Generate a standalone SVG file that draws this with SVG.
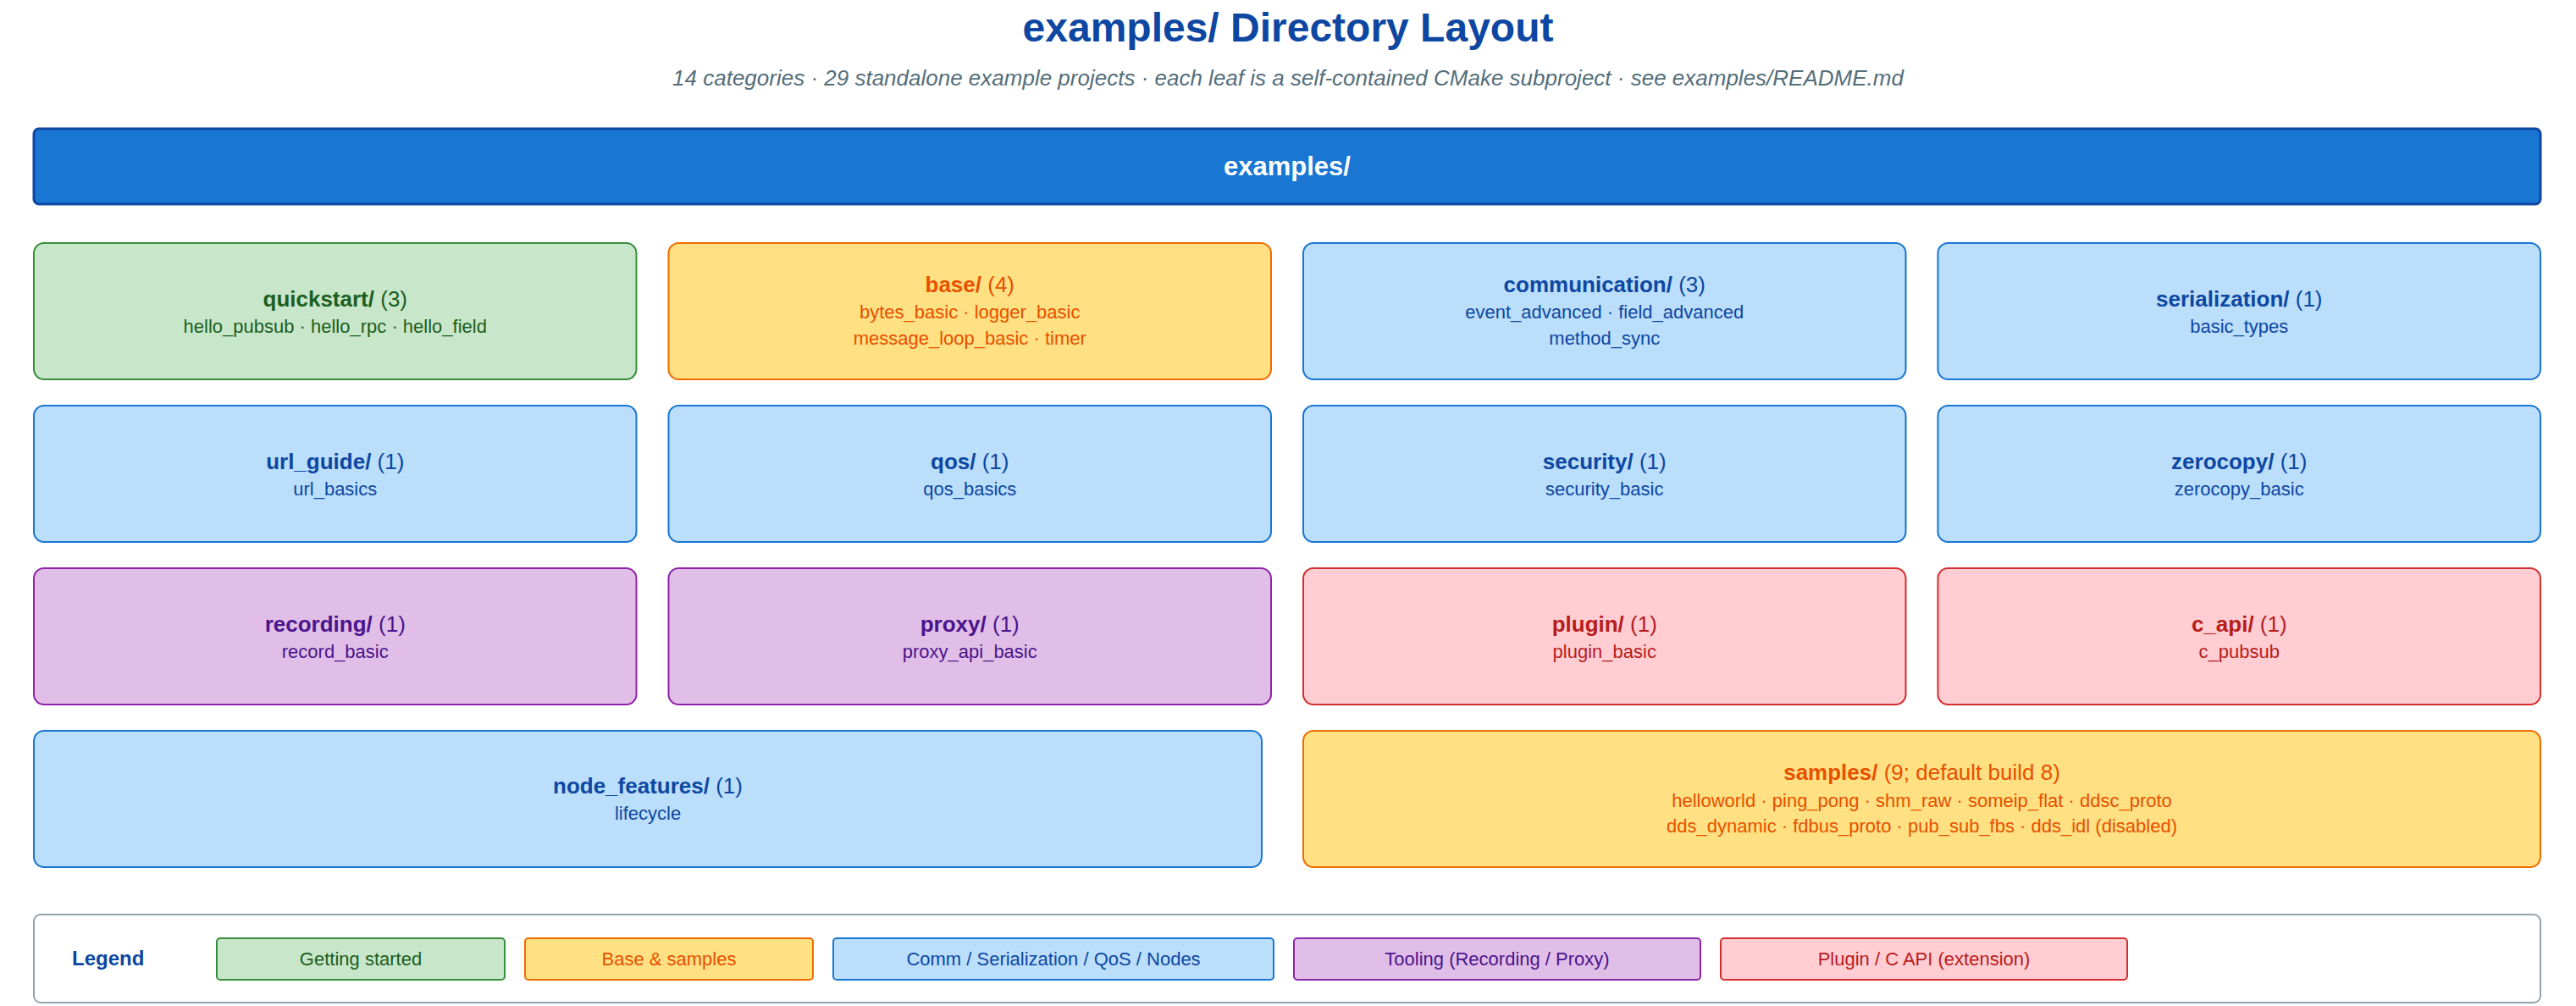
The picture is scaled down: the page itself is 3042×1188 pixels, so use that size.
<svg xmlns="http://www.w3.org/2000/svg" width="3042" height="1188" viewBox="0 0 3042 1188">
<style>
text{font-family:"Liberation Sans",Arial,sans-serif;text-anchor:middle}
.title{font-size:48px;font-weight:bold;fill:#0d47a1}
.sub{font-size:26px;font-style:italic;fill:#546e7a}
.rootbox{fill:#1976d2;stroke:#0d47a1;stroke-width:3}
.roottxt{font-size:31px;font-weight:bold;fill:#ffffff}
.box{stroke-width:2}
.nt{font-size:26px}
.nt .b{font-weight:bold}
.it{font-size:22px}
.g rect{fill:#c8e6c9;stroke:#388e3c}
.g text{fill:#1b5e20}
.o rect{fill:#ffe082;stroke:#ef6c00}
.o text{fill:#e65100}
.bl rect{fill:#bbdefb;stroke:#1976d2}
.bl text{fill:#0d47a1}
.p rect{fill:#e1bee7;stroke:#8e24aa}
.p text{fill:#4a148c}
.r rect{fill:#ffcdd2;stroke:#d32f2f}
.r text{fill:#b71c1c}
.legbox{fill:#ffffff;stroke:#90a4ae;stroke-width:2}
.legtitle{font-size:24px;font-weight:bold;fill:#0d47a1;text-anchor:start}
.li{font-size:22px}
</style>
<text class="title" x="1521" y="49">examples/ Directory Layout</text>
<text class="sub" x="1521" y="101">14 categories · 29 standalone example projects · each leaf is a self-contained CMake subproject · see examples/README.md</text>
<g id="root">
<rect class="rootbox" x="40" y="152" width="2960" height="89" rx="6"/>
<text class="roottxt" x="1520" y="207">examples/</text>
</g>
<g id="connectors"></g>
<g id="quickstart" class="g">
<rect class="box" x="40" y="287" width="711.5" height="161" rx="12"/>
<text class="nt" x="395.75" y="361.5"><tspan class="b">quickstart/</tspan> (3)</text>
<text class="it" x="395.75" y="392.5">hello_pubsub · hello_rpc · hello_field</text>
</g>
<g id="base" class="o">
<rect class="box" x="789.5" y="287" width="711.5" height="161" rx="12"/>
<text class="nt" x="1145.25" y="344.5"><tspan class="b">base/</tspan> (4)</text>
<text class="it" x="1145.25" y="376">bytes_basic · logger_basic</text>
<text class="it" x="1145.25" y="407">message_loop_basic · timer</text>
</g>
<g id="communication" class="bl">
<rect class="box" x="1539" y="287" width="711.5" height="161" rx="12"/>
<text class="nt" x="1894.75" y="344.5"><tspan class="b">communication/</tspan> (3)</text>
<text class="it" x="1894.75" y="376">event_advanced · field_advanced</text>
<text class="it" x="1894.75" y="407">method_sync</text>
</g>
<g id="serialization" class="bl">
<rect class="box" x="2288.5" y="287" width="711.5" height="161" rx="12"/>
<text class="nt" x="2644.25" y="361.5"><tspan class="b">serialization/</tspan> (1)</text>
<text class="it" x="2644.25" y="392.5">basic_types</text>
</g>
<g id="url_guide" class="bl">
<rect class="box" x="40" y="479" width="711.5" height="161" rx="12"/>
<text class="nt" x="395.75" y="553.5"><tspan class="b">url_guide/</tspan> (1)</text>
<text class="it" x="395.75" y="584.5">url_basics</text>
</g>
<g id="qos" class="bl">
<rect class="box" x="789.5" y="479" width="711.5" height="161" rx="12"/>
<text class="nt" x="1145.25" y="553.5"><tspan class="b">qos/</tspan> (1)</text>
<text class="it" x="1145.25" y="584.5">qos_basics</text>
</g>
<g id="security" class="bl">
<rect class="box" x="1539" y="479" width="711.5" height="161" rx="12"/>
<text class="nt" x="1894.75" y="553.5"><tspan class="b">security/</tspan> (1)</text>
<text class="it" x="1894.75" y="584.5">security_basic</text>
</g>
<g id="zerocopy" class="bl">
<rect class="box" x="2288.5" y="479" width="711.5" height="161" rx="12"/>
<text class="nt" x="2644.25" y="553.5"><tspan class="b">zerocopy/</tspan> (1)</text>
<text class="it" x="2644.25" y="584.5">zerocopy_basic</text>
</g>
<g id="recording" class="p">
<rect class="box" x="40" y="671" width="711.5" height="161" rx="12"/>
<text class="nt" x="395.75" y="745.5"><tspan class="b">recording/</tspan> (1)</text>
<text class="it" x="395.75" y="776.5">record_basic</text>
</g>
<g id="proxy" class="p">
<rect class="box" x="789.5" y="671" width="711.5" height="161" rx="12"/>
<text class="nt" x="1145.25" y="745.5"><tspan class="b">proxy/</tspan> (1)</text>
<text class="it" x="1145.25" y="776.5">proxy_api_basic</text>
</g>
<g id="plugin" class="r">
<rect class="box" x="1539" y="671" width="711.5" height="161" rx="12"/>
<text class="nt" x="1894.75" y="745.5"><tspan class="b">plugin/</tspan> (1)</text>
<text class="it" x="1894.75" y="776.5">plugin_basic</text>
</g>
<g id="c_api" class="r">
<rect class="box" x="2288.5" y="671" width="711.5" height="161" rx="12"/>
<text class="nt" x="2644.25" y="745.5"><tspan class="b">c_api/</tspan> (1)</text>
<text class="it" x="2644.25" y="776.5">c_pubsub</text>
</g>
<g id="node_features" class="bl">
<rect class="box" x="40" y="863" width="1450" height="161" rx="12"/>
<text class="nt" x="765" y="937"><tspan class="b">node_features/</tspan> (1)</text>
<text class="it" x="765" y="968">lifecycle</text>
</g>
<g id="samples" class="o">
<rect class="box" x="1539" y="863" width="1461" height="161" rx="12"/>
<text class="nt" x="2269.5" y="920.5"><tspan class="b">samples/</tspan> (9; default build 8)</text>
<text class="it" x="2269.5" y="952.5">helloworld · ping_pong · shm_raw · someip_flat · ddsc_proto</text>
<text class="it" x="2269.5" y="983">dds_dynamic · fdbus_proto · pub_sub_fbs · dds_idl (disabled)</text>
</g>
<g id="legend">
<rect class="legbox" x="40" y="1080" width="2960" height="104" rx="8"/>
<text class="legtitle" x="85" y="1140">Legend</text>
<g class="g"><rect class="box" x="256" y="1108" width="340" height="49" rx="4"/><text class="li" x="426" y="1140">Getting started</text></g>
<g class="o"><rect class="box" x="620" y="1108" width="340" height="49" rx="4"/><text class="li" x="790" y="1140">Base &amp; samples</text></g>
<g class="bl"><rect class="box" x="984" y="1108" width="520" height="49" rx="4"/><text class="li" x="1244" y="1140">Comm / Serialization / QoS / Nodes</text></g>
<g class="p"><rect class="box" x="1528" y="1108" width="480" height="49" rx="4"/><text class="li" x="1768" y="1140">Tooling (Recording / Proxy)</text></g>
<g class="r"><rect class="box" x="2032" y="1108" width="480" height="49" rx="4"/><text class="li" x="2272" y="1140">Plugin / C API (extension)</text></g>
</g>
</svg>
